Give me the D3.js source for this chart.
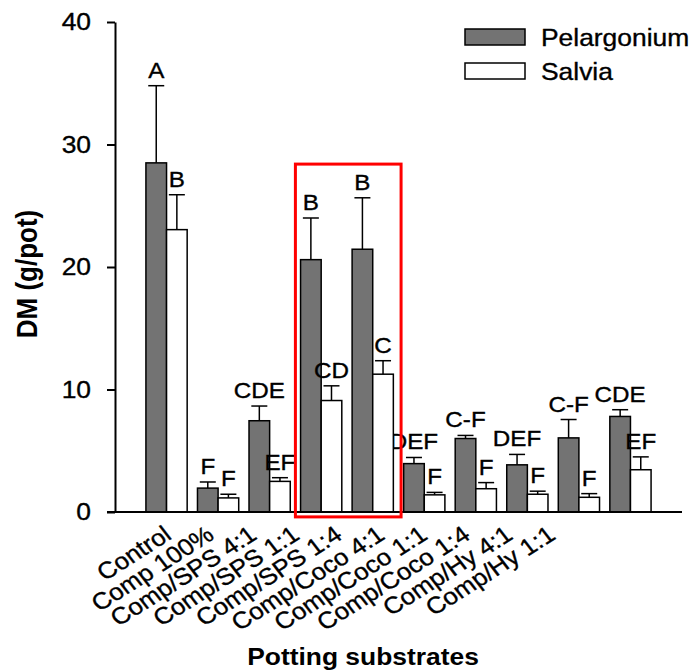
<!DOCTYPE html>
<html>
<head>
<meta charset="utf-8">
<script src="https://cdn.jsdelivr.net/npm/d3@7"></script>
<style>
  html, body { margin: 0; padding: 0; background: #fff; }
  svg { display: block; }
  text { font-family: "Liberation Sans", Arial, Helvetica, sans-serif; fill: #000; stroke: #000; stroke-width: 0.35px; }
</style>
</head>
<body>
<script>
// ---------- data ----------
const categories = ["Control", "Comp 100%", "Comp/SPS 4:1", "Comp/SPS 1:1", "Comp/SPS 1:4",
  "Comp/Coco 4:1", "Comp/Coco 1:1", "Comp/Coco 1:4", "Comp/Hy 4:1", "Comp/Hy 1:1"];
const seriesNames = ["Pelargonium", "Salvia"];
const pelargonium = [28.5, 1.95, 7.45, 20.6, 21.45, 3.95, 6.0, 3.85, 6.05, 7.8];
const pelargoniumErr = [6.3, 0.5, 1.2, 3.4, 4.2, 0.5, 0.25, 0.85, 1.5, 0.55];
const salvia = [23.05, 1.15, 2.5, 9.1, 11.25, 1.4, 1.9, 1.45, 1.2, 3.45];
const salviaErr = [2.85, 0.3, 0.3, 1.2, 1.1, 0.2, 0.5, 0.25, 0.3, 1.05];
const pelargoniumLetters = ["A", "F", "CDE", "B", "B", "DEF", "C-F", "DEF", "C-F", "CDE"];
const salviaLetters = ["B", "F", "EF", "CD", "C", "F", "F", "F", "F", "EF"];
const yTicks = [0, 10, 20, 30, 40];
const yTitle = "DM (g/pot)";
const xTitle = "Potting substrates";
// highlighted region (category positions and value range)
const highlightX = [3.5, 5.55];
const highlightY = [-0.4, 28.4];

// ---------- layout ----------
const W = 692, H = 672;
const SX = 1.1; // horizontal text stretch seen in the reference
const x = d3.scaleLinear().domain([0, categories.length + 1]).range([115, 682]);
const y = d3.scaleLinear().domain([0, 40]).range([512, 22]);
const labelX = d3.scaleLinear().domain([0, categories.length - 1]).range([173, 557]);
const barW = 0.4;

const svg = d3.select("body").append("svg").attr("width", W).attr("height", H);

function stext(sel, xx, yy, str, opts) {
  opts = opts || {};
  const g = sel.append("g")
    .attr("transform", `translate(${xx},${yy}) scale(${SX},1)` + (opts.rotate ? ` rotate(${opts.rotate})` : ""));
  const t = g.append("text")
    .attr("text-anchor", opts.anchor || "middle")
    .attr("font-size", opts.size || 22)
    .attr("font-weight", opts.weight || "normal")
    .text(str);
  if (opts.dy) t.attr("dy", opts.dy);
  if (opts.weight === "bold") t.style("stroke-width", "0px");
  return t;
}

// ---------- bars ----------
const series = [
  { name: seriesNames[0], vals: pelargonium, err: pelargoniumErr, letters: pelargoniumLetters, off: -barW, fill: "#737373" },
  { name: seriesNames[1], vals: salvia, err: salviaErr, letters: salviaLetters, off: 0, fill: "#ffffff" }
];

series.forEach(s => {
  const g = svg.append("g");
  s.vals.forEach((v, i) => {
    const x0 = x(i + 1 + s.off), x1 = x(i + 1 + s.off + barW);
    const cx = (x0 + x1) / 2;
    const top = y(v + s.err[i]);
    g.append("line").attr("x1", cx).attr("x2", cx).attr("y1", y(v)).attr("y2", top)
      .attr("stroke", "#000").attr("stroke-width", 1.5);
    g.append("line").attr("x1", cx - 8).attr("x2", cx + 8).attr("y1", top).attr("y2", top)
      .attr("stroke", "#000").attr("stroke-width", 1.5);
    g.append("rect").attr("x", x0).attr("y", y(v)).attr("width", x1 - x0).attr("height", y(0) - y(v))
      .attr("fill", s.fill).attr("stroke", "#000").attr("stroke-width", 1.5);
    stext(svg, cx, top - 8, s.letters[i], { size: 22 });
  });
});

// ---------- axes ----------
const yAxis = svg.append("g").attr("transform", `translate(${x(0)},0)`)
  .call(d3.axisLeft(y).tickValues(yTicks).tickSize(8).tickSizeOuter(0).tickFormat(d3.format("d")));
yAxis.select(".domain").attr("stroke", "#000").attr("stroke-width", 2);
yAxis.selectAll(".tick line").attr("stroke", "#000").attr("stroke-width", 2);
yAxis.selectAll(".tick text").remove();
yTicks.forEach(t => stext(yAxis, -24, y(t), String(t), { size: 24, anchor: "end", dy: "0.35em" }));

svg.append("line").attr("x1", x(0) - 8).attr("x2", x(categories.length + 1))
  .attr("y1", y(0)).attr("y2", y(0)).attr("stroke", "#000").attr("stroke-width", 2);

// category labels
categories.forEach((c, i) => {
  stext(svg, labelX(i), 538, c, { size: 23.5, anchor: "end", rotate: -35 });
});

// titles
stext(svg, 363, 665, xTitle, { size: 24, weight: "bold" });
stext(svg, 37, 274, yTitle, { size: 26, weight: "bold", rotate: -90 });

// ---------- highlight box ----------
svg.append("rect")
  .attr("x", x(highlightX[0])).attr("y", y(highlightY[1]))
  .attr("width", x(highlightX[1]) - x(highlightX[0]))
  .attr("height", y(highlightY[0]) - y(highlightY[1]))
  .attr("fill", "none").attr("stroke", "#ff0000").attr("stroke-width", 3);

// ---------- legend ----------
const leg = svg.append("g");
series.forEach((s, i) => {
  const yy = 29 + i * 34;
  leg.append("rect").attr("x", 465).attr("y", yy).attr("width", 60).attr("height", 16)
    .attr("fill", s.fill).attr("stroke", "#000").attr("stroke-width", 1.5);
  stext(leg, 541, yy + 16.5, s.name, { size: 24, anchor: "start" });
});
</script>
</body>
</html>
